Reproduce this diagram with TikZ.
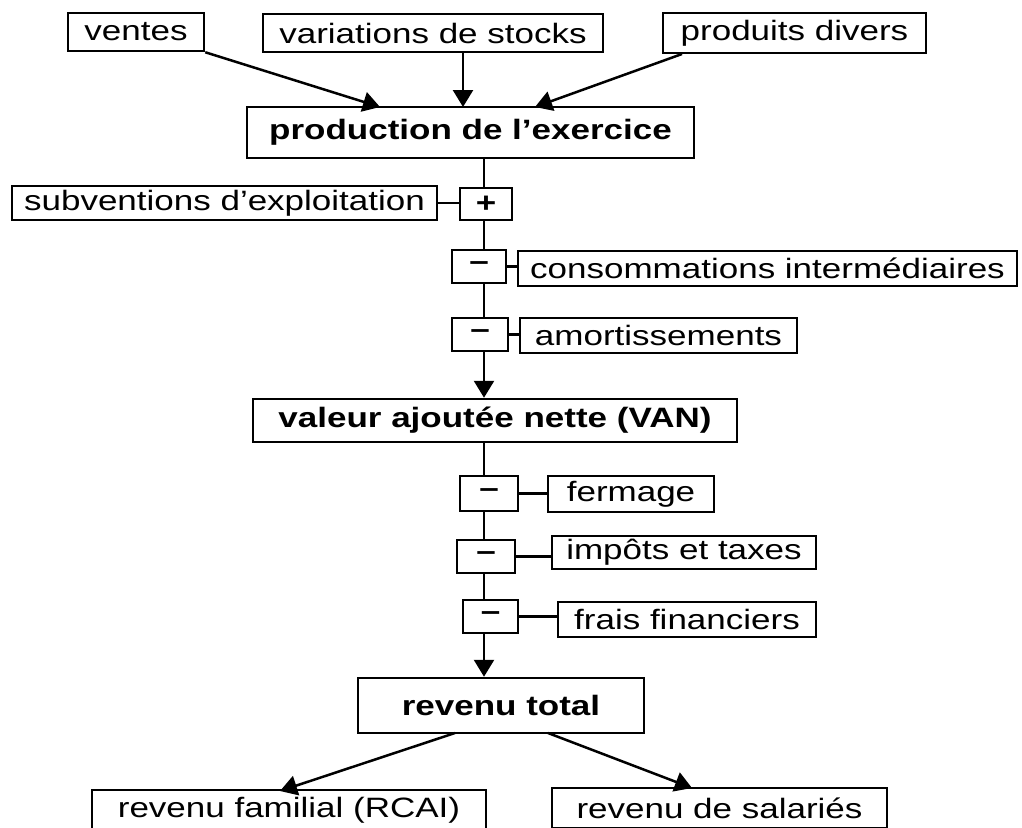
\documentclass[tikz,border=0pt]{standalone}
\usepackage{fontspec}
\setmainfont{Liberation Sans}[FakeStretch=1.25]
\usetikzlibrary{arrows.meta,calc}
\begin{document}
\begin{tikzpicture}[x=1pt,y=-1pt,
  box/.style={draw, line width=2.5pt, fill=white, inner sep=0pt, align=center,
    font=\fontsize{28}{32}\selectfont},
  bbox/.style={box, font=\fontsize{28}{32}\selectfont\bfseries},
  sbox/.style={box, font=\fontsize{28}{32}\selectfont\bfseries},
  ln/.style={line width=2.5pt},
  arr/.style={line width=2.5pt, -{Triangle[width=20pt,length=17pt]}}]
\path[use as bounding box] (0,0) rectangle (1022,827);
\fill[white] (0,0) rectangle (1022,827);
\clip (0,0) rectangle (1022,827);
% top inputs
\node[box, minimum width=136pt, minimum height=38pt] (ventes) at (136,32) {ventes};
\node[box, minimum width=340pt, minimum height=38pt] (stocks) at (433,33) {variations de stocks};
\node[box, minimum width=263pt, minimum height=40pt] (divers) at (794.5,33) {produits divers};
\node[bbox, minimum width=447pt, minimum height=51pt] (prod) at (470.5,132.5) {production de l’exercice};
% first block
\node[box, minimum width=425pt, minimum height=34pt] (subv) at (224.5,203) {subventions d’exploitation};
\node[sbox, minimum width=52pt, minimum height=32pt] (plus) at (486,204) {+};
\node[sbox, minimum width=54pt, minimum height=33pt] (m1) at (479,266.5) {–};
\node[box, minimum width=499pt, minimum height=35pt] (conso) at (767.5,268.5) {consommations intermédiaires};
\node[sbox, minimum width=56pt, minimum height=33pt] (m2) at (480,334.5) {–};
\node[box, minimum width=277pt, minimum height=35pt] (amort) at (658.5,335.5) {amortissements};
\node[bbox, minimum width=484pt, minimum height=43pt] (van) at (495,420.5) {valeur ajoutée nette (VAN)};
% second block
\node[sbox, minimum width=58pt, minimum height=35pt] (m3) at (489,493.5) {–};
\node[box, minimum width=166pt, minimum height=36pt] (fermage) at (631,494) {fermage};
\node[sbox, minimum width=58pt, minimum height=33pt] (m4) at (486,556.5) {–};
\node[box, minimum width=264pt, minimum height=33pt] (impots) at (684,552.5) {impôts et taxes};
\node[sbox, minimum width=55pt, minimum height=33pt] (m5) at (490.5,616.5) {–};
\node[box, minimum width=258pt, minimum height=35pt] (frais) at (687,619.5) {frais financiers};
\node[bbox, minimum width=286pt, minimum height=55pt] (total) at (501,705.5) {revenu total};
% outputs
\node[box, minimum width=394pt, minimum height=40pt] (rcai) at (289,810) {revenu familial (RCAI)};
\node[box, minimum width=335pt, minimum height=40pt] (sal) at (719.5,808) {revenu de salariés};
% helper coordinates
\coordinate (sx) at (484,0);
\coordinate (t1) at (380,107);
\coordinate (t2) at (463,107);
\coordinate (t3) at (535,107);
\coordinate (s3) at (682,54);
\coordinate (s4) at (455,733);
\coordinate (t4) at (280,791);
\coordinate (s5) at (548,733);
\coordinate (t5) at (692,788);
% connectors
\draw[arr] (ventes.south east) -- (t1);
\draw[arr] (stocks.south -| t2) -- (t2);
\draw[arr] (s3) -- (t3);
\draw[ln] (prod.south -| sx) -- (plus.north -| sx);
\draw[ln] (plus.south -| sx) -- (m1.north -| sx);
\draw[ln] (m1.south -| sx) -- (m2.north -| sx);
\draw[arr] (m2.south -| sx) -- (van.north -| sx);
\draw[ln] (van.south -| sx) -- (m3.north -| sx);
\draw[ln] (m3.south -| sx) -- (m4.north -| sx);
\draw[ln] (m4.south -| sx) -- (m5.north -| sx);
\draw[arr] (m5.south -| sx) -- (total.north -| sx);
\draw[ln] (subv.east) -- (subv.east -| plus.west);
\draw[ln] (m1.east) -- (m1.east -| conso.west);
\draw[ln] (m2.east) -- (m2.east -| amort.west);
\draw[ln] (m3.east) -- (m3.east -| fermage.west);
\draw[ln] (m4.east) -- (m4.east -| impots.west);
\draw[ln] (m5.east) -- (m5.east -| frais.west);
\draw[arr] (s4) -- (t4);
\draw[arr] (s5) -- (t5);
\end{tikzpicture}
\end{document}
